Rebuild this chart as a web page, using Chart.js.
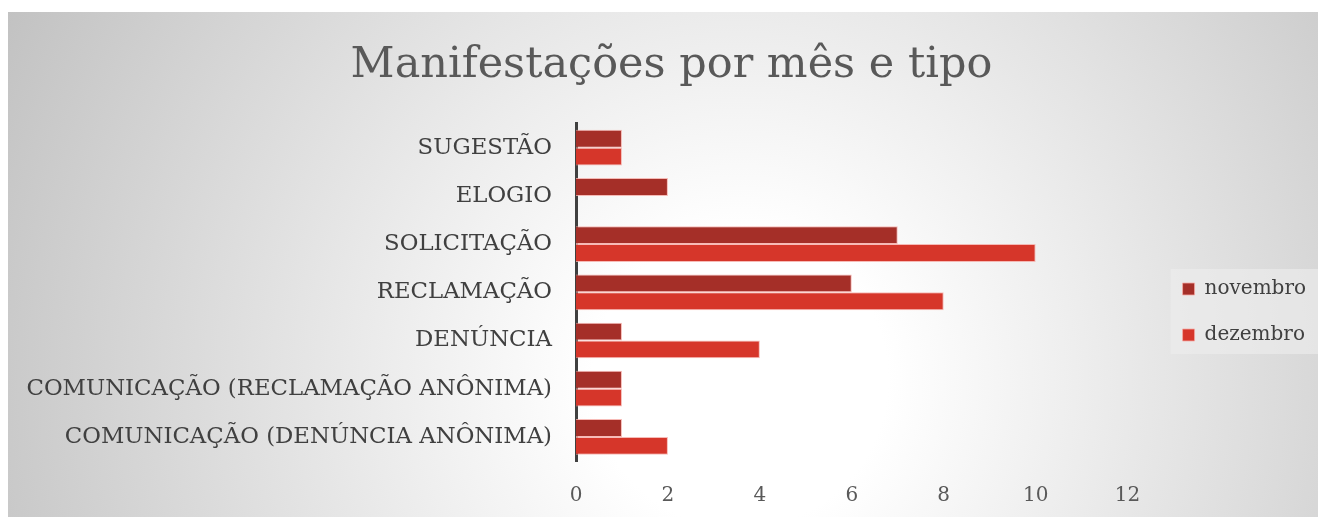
<!DOCTYPE html>
<html>
<head>
<meta charset="utf-8">
<script src="https://cdn.jsdelivr.net/npm/chart.js@4/dist/chart.umd.min.js"></script>
<style>
    html, body { margin: 0; padding: 0; background: #fff; }
    #frame {
        position: absolute;
        left: 8px;
        top: 12px;
        width: 1310px;
        height: 505px;
        background: radial-gradient(circle 820px at 732px 368px, #ffffff 18%, #c2c2c2 100%);
    }
    #chart { display: block; }
</style>
</head>
<body>
<div id="frame">
    <canvas id="chart" width="1310" height="505"></canvas>
</div>
<script>
    // Categories (top to bottom)
    const categories = [
        'SUGESTÃO',
        'ELOGIO',
        'SOLICITAÇÃO',
        'RECLAMAÇÃO',
        'DENÚNCIA',
        'COMUNICAÇÃO (RECLAMAÇÃO ANÔNIMA)',
        'COMUNICAÇÃO (DENÚNCIA ANÔNIMA)'
    ];

    // Series values
    const novembro = [1, 2, 7, 6, 1, 1, 1];
    const dezembro = [1, 0, 10, 8, 4, 1, 2];

    // Axis range
    const xMin = 0;
    const xMax = 12;
    const xStep = 2;

    const fontFamily = '"DejaVu Serif", serif';

    // Offsets for the legend and the title
    const legendShift = { x: 29, y: 52 };
    const titleShift = 24;

    const moveBoxes = {
        id: 'moveBoxes',
        afterLayout: function (chart) {
            let legend = chart.legend;
            if (legend) {
                legend.left += legendShift.x;
                legend.right += legendShift.x;
                legend.top += legendShift.y;
                legend.bottom += legendShift.y;
            }
            let title = chart.titleBlock;
            if (title) {
                title.left += titleShift;
                title.right += titleShift;
            }
        }
    };

    // Grey box behind the legend
    const legendBox = {
        id: 'legendBox',
        beforeDraw: function (chart) {
            let legend = chart.legend;
            if (!legend || !legend.legendHitBoxes.length) return;
            let boxes = legend.legendHitBoxes;
            let first = boxes[0];
            let last = boxes[boxes.length - 1];
            let ctx = chart.ctx;
            let left = first.left - 12;
            let top = first.top + first.height / 2 - 20;
            let bottom = last.top + last.height / 2 + 19;
            ctx.save();
            ctx.fillStyle = 'rgba(236, 236, 236, 0.65)';
            ctx.fillRect(left, top, chart.width - left, bottom - top);
            ctx.restore();
        }
    };

    new Chart(document.getElementById('chart'), {
        type: 'bar',
        data: {
            labels: categories,
            datasets: [{
                label: 'novembro',
                data: novembro,
                backgroundColor: '#a52f28',
                borderColor: 'rgba(245, 170, 165, 0.8)',
                borderWidth: 1
            }, {
                label: 'dezembro',
                data: dezembro,
                backgroundColor: '#d6362a',
                borderColor: 'rgba(245, 170, 165, 0.8)',
                borderWidth: 1
            }]
        },
        options: {
            indexAxis: 'y',
            responsive: false,
            animation: false,
            categoryPercentage: 0.74,
            barPercentage: 1,
            layout: {
                padding: { left: 0, right: 31, top: 0, bottom: 9 }
            },
            scales: {
                x: {
                    min: xMin,
                    max: xMax,
                    grid: { display: false, drawTicks: false },
                    border: { display: false },
                    afterFit: function (scale) {
                        scale.height = 47;
                    },
                    ticks: {
                        stepSize: xStep,
                        padding: 23,
                        color: '#595959',
                        font: { family: fontFamily, size: 20 }
                    }
                },
                y: {
                    grid: { display: false, drawTicks: false },
                    border: { display: true, color: '#404040', width: 3 },
                    afterFit: function (scale) {
                        scale.width = 568;
                    },
                    ticks: {
                        padding: 24,
                        color: '#404040',
                        font: { family: fontFamily, size: 22.8 }
                    }
                }
            },
            plugins: {
                title: {
                    display: true,
                    text: 'Manifestações por mês e tipo',
                    color: '#595959',
                    font: { family: fontFamily, size: 43, weight: 'normal' },
                    padding: { top: 28, bottom: 32 }
                },
                legend: {
                    display: true,
                    position: 'right',
                    labels: {
                        boxWidth: 12,
                        boxHeight: 12,
                        padding: 26,
                        color: '#404040',
                        font: { family: fontFamily, size: 20 }
                    }
                },
                tooltip: { enabled: false }
            }
        },
        plugins: [moveBoxes, legendBox]
    });
</script>
</body>
</html>
